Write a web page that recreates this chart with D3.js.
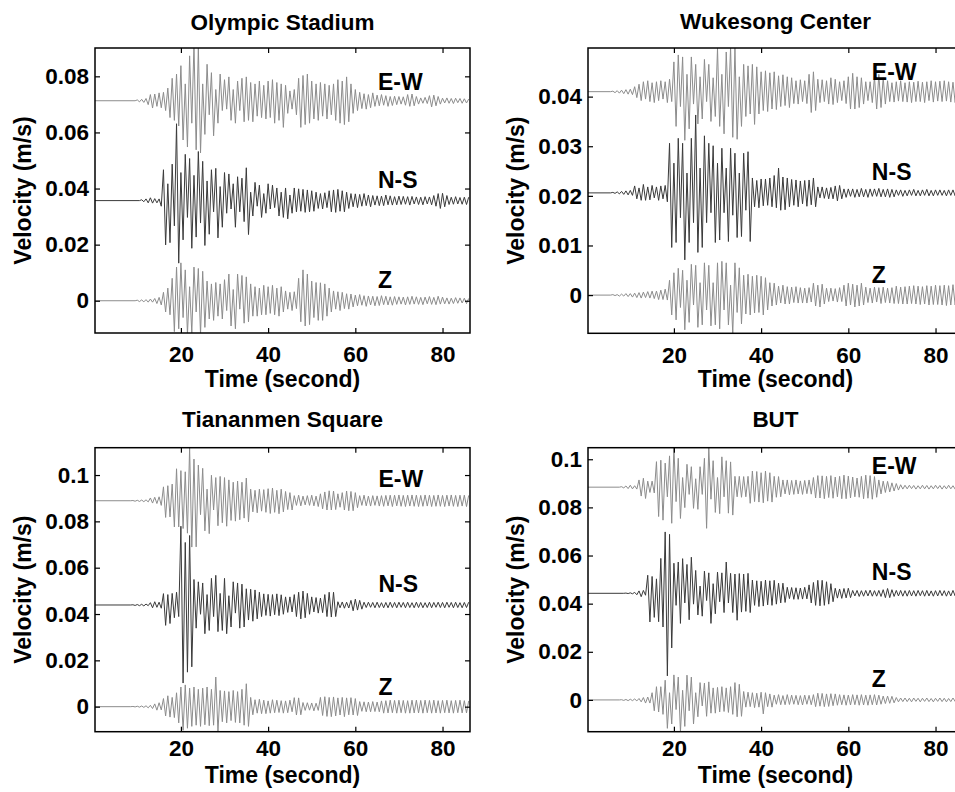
<!DOCTYPE html>
<html>
<head>
<meta charset="utf-8">
<script src="https://cdn.jsdelivr.net/npm/d3@7"></script>
<style>
  body { margin: 0; background: #fff; }
  svg { display: block; }
  text { font-family: "Liberation Sans", Arial, Helvetica, sans-serif; font-weight: bold; fill: #000; }
</style>
</head>
<body>
<svg id="chart" width="955" height="792"></svg>
<script>
// ---- Stations, components and axis settings ----
const stationNames = ["Olympic Stadium", "Wukesong Center", "Tiananmen Square", "BUT"];
const componentNames = ["E-W", "N-S", "Z"];
const timeLimits = [0.3, 86.3];
const timeTicks = [20, 40, 60, 80];
const velocityLimits = [[-0.0115, 0.0901], [-0.0077, 0.0498], [-0.0108, 0.1118], [-0.0132, 0.1048]];
const velocityTicks = [
  [0, 0.02, 0.04, 0.06, 0.08],
  [0, 0.01, 0.02, 0.03, 0.04],
  [0, 0.02, 0.04, 0.06, 0.08, 0.1],
  [0, 0.02, 0.04, 0.06, 0.08, 0.1]
];
// vertical offset of each trace (m/s), order E-W, N-S, Z
const traceOffsets = [[0.0713, 0.0357, 0], [0.0410, 0.0206, 0], [0.0889, 0.0439, 0], [0.0884, 0.0443, 0]];
// time of the first sample of each trace (s); samples every 0.5 s
const traceOnsets = [[10, 11, 10], [6, 6, 6], [9, 9, 9], [8, 9, 8]];
const sampleStep = 0.5;
// component label anchor: time (s) and level (m/s)
const labelTimes = [65.2, 65.4, 65.3, 65.4];
const labelLevels = [[0.0751, 0.0401, 0.0044], [0.0434, 0.0232, 0.0024], [0.0947, 0.0494, 0.0050], [0.0939, 0.0498, 0.0055]];

// ---- Velocity samples, units of 0.1 mm/s (1e-4 m/s) ----
const olympicEW = [
  3,-4,5,-6,8,-14,22,-26,24,-20,
  28,-25,30,-35,45,-60,80,-70,95,-90,
  125,-140,60,-165,160,-80,200,-175,195,-186,
  60,-120,130,-50,100,-125,40,-80,95,-35,
  75,-30,85,-70,40,-80,70,-35,80,-75,
  85,-70,65,-75,60,-55,70,-60,55,-65,
  70,-60,75,-80,65,-70,60,-95,55,-45,
  35,-30,40,-50,80,-95,90,-85,95,-80,
  70,-65,60,-70,65,-55,60,-65,55,-50,
  60,-70,75,-80,70,-85,85,-75,60,-45,
  40,-35,30,-28,25,-30,22,-25,28,-20,
  20,-18,22,-16,18,-20,15,-17,16,-14,
  15,-12,14,-16,22,-20,24,-18,15,-12,
  10,-9,12,-10,18,-22,20,-18,15,-12,
  9,-8,10,-9,8,-10,9,-7,8,-9,
  7,-8,6
];
const olympicNS = [
  3,-4,6,-8,10,-9,7,-8,6,-20,
  110,-158,60,-150,130,-90,274,-223,100,-140,
  165,-60,150,-170,90,-130,175,-80,140,-160,
  70,-120,110,-40,115,-133,50,-95,100,-45,
  95,-30,60,-95,85,-40,80,-75,117,-121,
  30,-55,65,-20,55,-60,25,-45,60,-30,
  55,-25,45,-55,30,-60,45,-65,20,-45,
  45,-40,42,-38,40,-42,38,-40,35,-38,
  30,-28,25,-30,28,-25,35,-40,38,-42,
  40,-38,35,-40,30,-28,25,-22,24,-25,
  22,-20,25,-18,20,-22,18,-16,17,-18,
  16,-18,20,-15,17,-16,14,-15,16,-14,
  15,-13,14,-16,15,-12,13,-14,12,-15,
  14,-12,13,-15,18,-20,25,-28,26,-22,
  18,-14,12,-13,14,-12,11,-13,12,-14,
  12
];
const olympicZ = [
  2,-3,3,-4,4,-5,6,-5,8,-10,
  12,-15,30,-40,45,-50,80,-110,120,-100,
  135,-60,110,-120,50,-115,120,-40,115,-120,
  105,-95,70,-65,60,-70,65,-55,60,-65,
  75,-35,95,-90,40,-100,95,-30,90,-80,
  85,-75,60,-55,50,-55,45,-50,55,-50,
  50,-45,55,-50,45,-55,50,-40,35,-30,
  30,-35,32,-28,80,-75,110,-90,95,-85,
  70,-60,65,-70,64,-70,60,-55,45,-40,
  35,-30,32,-35,30,-28,25,-30,24,-22,
  20,-18,22,-16,18,-20,17,-15,16,-18,
  15,-17,18,-14,16,-15,14,-16,15,-13,
  14,-12,13,-15,14,-13,16,-12,14,-13,
  12,-14,13,-11,15,-13,12,-14,16,-12,
  13,-11,10,-12,9,-10,11,-9,10,-8,
  9,-10,8
];
const wukesongEW = [
  1,-2,2,-3,3,-4,4,-5,5,-6,
  10,-12,15,-18,20,-15,22,-20,18,-22,
  20,-18,22,-15,20,-22,25,-20,60,-70,
  74,-30,70,-98,35,-75,70,-25,55,-65,
  30,-55,65,-20,55,-60,28,-50,88,-70,
  35,-85,80,-30,90,-92,88,-96,30,-70,
  55,-50,52,-45,55,-66,50,-45,40,-38,
  42,-40,38,-35,40,-36,32,-30,34,-28,
  30,-32,28,-24,22,-25,24,-20,22,-24,
  35,-42,40,-38,25,-22,24,-20,22,-25,
  28,-26,25,-22,20,-18,22,-24,30,-35,
  37,-35,30,-32,28,-25,20,-18,20,-22,
  30,-35,35,-32,28,-25,22,-20,18,-21,
  20,-19,22,-20,18,-21,20,-22,19,-20,
  21,-20,19,-22,20,-18,22,-21,20,-19,
  21,-20,22,-19,20,-21,19,-22,20,-21,
  20
];
const wukesongNS = [
  1,-1,2,-2,3,-3,4,-4,5,-5,
  14,-12,10,-15,17,-15,12,-14,15,-10,
  12,-15,14,-12,15,-18,100,-110,60,-100,
  110,-50,100,-135,40,-100,110,-60,157,-120,
  50,-110,115,-60,100,-40,95,-100,60,-95,
  90,-40,50,-98,90,-45,80,-90,40,-88,
  80,-35,83,-98,30,-28,25,-30,28,-26,
  28,-25,30,-28,35,-30,50,-35,32,-34,
  30,-28,27,-25,26,-28,24,-22,25,-27,
  26,-24,30,-28,12,-10,12,-11,10,-12,
  11,-12,14,-16,15,-12,8,-9,8,-7,
  8,-9,7,-8,9,-8,7,-9,8,-7,
  8,-7,9,-8,7,-8,8,-9,7,-8,
  6,-5,6,-7,5,-6,6,-5,7,-6,
  5,-6,6,-5,7,-6,5,-6,6,-5,
  6,-5,5,-6,6,-5,6,-6,5,-6,
  5
];
const wukesongZ = [
  1,-1,1,-2,2,-2,3,-3,3,-4,
  4,-5,5,-6,6,-5,7,-6,8,-7,
  8,-9,10,-9,12,-10,30,-40,45,-50,
  54,-25,50,-70,30,-55,62,-20,60,-65,
  25,-60,65,-30,60,-62,25,-60,65,-68,
  68,-30,65,-60,20,-78,65,-35,55,-58,
  40,-38,42,-40,38,-36,40,-35,38,-40,
  35,-30,25,-22,24,-20,18,-16,20,-18,
  17,-18,16,-15,17,-16,15,-16,14,-16,
  15,-14,24,-22,20,-24,22,-18,14,-13,
  14,-12,13,-14,15,-13,20,-22,24,-20,
  22,-24,20,-22,24,-20,16,-15,14,-16,
  16,-14,15,-17,16,-15,14,-16,15,-17,
  18,-17,16,-18,17,-18,18,-17,19,-18,
  18,-19,17,-18,19,-20,18,-19,20,-19,
  19,-20,20,-21,19,-20,21,-20,20,-21,
  20
];
const tiananmenEW = [
  1,-2,2,-3,3,-4,4,-5,12,-10,
  15,-12,17,-20,60,-72,65,-70,72,-113,
  138,-113,130,-120,125,-140,229,-200,180,-199,
  154,-60,140,-130,50,-142,110,-40,100,-108,
  105,-95,100,-110,90,-85,80,-88,85,-82,
  80,-75,98,-91,50,-48,45,-52,50,-45,
  48,-50,52,-55,55,-50,45,-56,50,-48,
  40,-38,35,-40,22,-20,24,-22,20,-18,
  22,-20,24,-22,20,-25,30,-35,38,-40,
  43,-40,42,-38,30,-28,35,-40,42,-43,
  40,-43,35,-30,22,-20,24,-22,20,-23,
  22,-20,21,-23,22,-24,23,-22,24,-25,
  24,-22,25,-24,23,-25,24,-23,25,-24,
  24,-25,23,-24,25,-23,24,-25,23,-24,
  25,-24,23,-25,24,-23,25,-24,23,-25,
  24,-23,24,-25,23
];
const tiananmenNS = [
  1,-2,2,-3,3,-4,4,-3,10,-12,
  14,-10,12,-14,49,-88,45,-80,50,-55,
  55,-50,340,-337,270,-290,300,-267,110,-100,
  100,-40,95,-124,45,-110,115,-50,128,-115,
  50,-110,115,-124,40,-95,100,-35,95,-100,
  90,-95,70,-65,68,-70,65,-60,55,-50,
  48,-45,46,-48,45,-42,48,-46,44,-40,
  35,-32,35,-30,45,-50,55,-60,60,-55,
  50,-40,35,-30,32,-35,30,-33,45,-50,
  55,-52,55,-50,14,-12,13,-14,12,-13,
  20,-25,25,-22,20,-18,12,-11,12,-10,
  11,-12,12,-11,10,-12,11,-12,12,-11,
  11,-12,12,-10,11,-12,12,-11,10,-12,
  12,-11,11,-12,10,-11,12,-12,11,-10,
  12,-11,11,-12,12,-10,11,-12,12,-11,
  10,-12,11,-11,12
];
const tiananmenZ = [
  1,-1,2,-2,3,-3,4,-5,6,-8,
  12,-15,17,-14,35,-40,47,-45,40,-47,
  60,-70,85,-102,94,-93,80,-85,85,-80,
  75,-85,80,-78,85,-82,75,-80,128,-108,
  70,-65,68,-70,65,-60,70,-68,65,-70,
  75,-80,99,-85,40,-35,30,-28,32,-30,
  28,-30,25,-28,30,-26,28,-25,26,-28,
  25,-26,28,-22,39,-36,38,-35,18,-16,
  17,-15,16,-18,15,-16,40,-38,43,-42,
  40,-43,42,-40,38,-36,40,-43,38,-35,
  39,-36,35,-38,22,-20,21,-22,20,-22,
  22,-21,20,-22,25,-28,26,-27,28,-26,
  27,-28,28,-26,27,-28,26,-28,28,-27,
  28,-27,27,-28,28,-26,27,-28,28,-27,
  26,-28,27,-26,28,-27,26,-28,27,-26,
  28,-27,26,-27,25
];
const butEW = [
  2,-3,5,-6,8,-7,6,-8,30,-37,
  37,-47,25,-22,25,-24,106,-122,112,-137,
  100,-40,130,-150,164,-60,120,-130,40,-85,
  95,-30,85,-88,35,-92,85,-30,120,-171,
  164,-50,110,-105,40,-110,126,-40,110,-108,
  105,-116,45,-40,45,-42,44,-40,45,-67,
  67,-60,65,-62,60,-65,67,-58,60,-62,
  45,-42,44,-40,30,-28,30,-32,28,-30,
  30,-28,26,-30,28,-27,30,-29,40,-45,
  48,-45,47,-48,45,-43,48,-46,42,-40,
  45,-48,50,-48,46,-45,42,-40,38,-42,
  45,-48,50,-46,48,-50,44,-42,30,-28,
  25,-22,24,-20,18,-16,15,-12,10,-8,
  8,-7,8,-6,7,-8,6,-7,8,-7,
  7,-8,6,-7,8,-6,7,-8,6,-7,
  8,-7,6,-8,7,-6,7
];
const butNS = [
  1,-1,2,-2,4,-6,10,-14,12,-8,
  75,-119,70,-100,60,-118,145,-140,255,-343,
  245,-227,125,-50,130,-125,144,-40,120,-110,
  150,-45,95,-90,30,-95,92,-30,85,-125,
  40,-85,88,-35,85,-80,130,-40,83,-80,
  80,-112,82,-78,80,-75,83,-80,55,-50,
  52,-55,50,-53,55,-48,52,-50,54,-45,
  42,-40,42,-38,25,-22,24,-25,23,-25,
  22,-24,25,-23,35,-40,45,-50,54,-52,
  54,-50,48,-45,40,-35,21,-20,18,-21,
  20,-19,21,-18,12,-11,12,-13,11,-12,
  12,-11,13,-12,11,-12,12,-13,15,-18,
  20,-18,15,-13,12,-11,12,-12,11,-12,
  12,-11,11,-12,12,-10,11,-12,12,-11,
  10,-12,11,-11,12,-10,11,-12,10,-11,
  12,-11,10,-12,11
];
const butZ = [
  1,-2,2,-3,3,-3,4,-4,6,-8,
  10,-13,12,-13,30,-45,55,-50,55,-60,
  82,-118,30,-100,104,-40,95,-132,40,-110,
  103,-45,95,-100,30,-70,72,-25,70,-68,
  75,-55,50,-55,52,-50,55,-48,50,-52,
  55,-60,72,-70,65,-68,35,-30,32,-28,
  30,-32,28,-30,32,-58,30,-28,25,-30,
  20,-18,22,-20,18,-20,22,-19,20,-18,
  19,-20,18,-21,20,-18,19,-20,22,-28,
  28,-26,27,-28,25,-27,26,-24,25,-22,
  22,-20,21,-22,20,-21,22,-20,21,-22,
  22,-21,20,-22,21,-20,22,-21,20,-18,
  16,-15,16,-14,15,-12,10,-8,8,-7,
  8,-7,7,-8,8,-6,7,-8,7,-6,
  8,-7,6,-8,7,-6,8,-7,7,-8,
  6,-7,8,-6,7,-8,7
];
const stationTraces = [
  [olympicEW, olympicNS, olympicZ],
  [wukesongEW, wukesongNS, wukesongZ],
  [tiananmenEW, tiananmenNS, tiananmenZ],
  [butEW, butNS, butZ]
];

// ---- Layout ----
const traceColors = ["#8c8c8c", "#3a3a3a", "#8c8c8c"];
const panelBoxes = [
  { left: 95,  top: 48,    width: 375, height: 285,   titleY: 30,    tickPad: 13.5, xLabelY: 53.5 },
  { left: 588, top: 48,    width: 375, height: 285.3, titleY: 28.5,  tickPad: 13.5, xLabelY: 53.5 },
  { left: 95,  top: 447.7, width: 375, height: 284,   titleY: 426.7, tickPad: 8.5,  xLabelY: 51 },
  { left: 588, top: 447.7, width: 375, height: 284,   titleY: 427.3, tickPad: 8.5,  xLabelY: 51 }
];
const fontSize = 22.5;

const svg = d3.select("#chart");

stationNames.forEach((name, si) => {
  const box = panelBoxes[si];
  const x = d3.scaleLinear().domain(timeLimits).range([0, box.width]);
  const y = d3.scaleLinear().domain(velocityLimits[si]).range([box.height, 0]);

  // title
  svg.append("text")
    .attr("x", box.left + box.width / 2)
    .attr("y", box.titleY)
    .attr("text-anchor", "middle")
    .style("font-size", "22.5px")
    .text(name);

  const g = svg.append("g").attr("transform", `translate(${box.left},${box.top})`);

  const clipId = "clip" + si;
  g.append("clipPath").attr("id", clipId)
    .append("rect").attr("width", box.width).attr("height", box.height);

  const traces = g.append("g").attr("clip-path", `url(#${clipId})`);

  stationTraces[si].forEach((vals, ci) => {
    const offset = traceOffsets[si][ci];
    const onset = traceOnsets[si][ci];
    const pts = [{ t: timeLimits[0], v: 0 }, { t: onset - sampleStep, v: 0 }]
      .concat(vals.map((v, i) => ({ t: onset + i * sampleStep, v })));
    const line = d3.line()
      .x(d => x(d.t))
      .y(d => y(offset + d.v * 1e-4));
    traces.append("path")
      .datum(pts)
      .attr("d", line)
      .attr("fill", "none")
      .attr("stroke", traceColors[ci])
      .attr("stroke-width", 1)
      .attr("stroke-linejoin", "round");
  });

  // component labels
  componentNames.forEach((c, ci) => {
    g.append("text")
      .attr("x", x(labelTimes[si]))
      .attr("y", y(labelLevels[si][ci]))
      .style("font-size", "23px")
      .text(c);
  });

  // axes with inward ticks on all four sides
  const tickLen = 5;
  const xAxis = g.append("g").attr("transform", `translate(0,${box.height})`)
    .call(d3.axisBottom(x).tickValues(timeTicks).tickSizeInner(-tickLen).tickSizeOuter(0)
      .tickPadding(box.tickPad));
  const xTop = g.append("g")
    .call(d3.axisTop(x).tickValues(timeTicks).tickSizeInner(-tickLen).tickSizeOuter(0).tickFormat(""));
  const yAxis = g.append("g")
    .call(d3.axisLeft(y).tickValues(velocityTicks[si]).tickSizeInner(-tickLen).tickSizeOuter(0)
      .tickPadding(6).tickFormat(d => String(d)));
  const yRight = g.append("g").attr("transform", `translate(${box.width},0)`)
    .call(d3.axisRight(y).tickValues(velocityTicks[si]).tickSizeInner(-tickLen).tickSizeOuter(0).tickFormat(""));

  [xAxis, xTop, yAxis, yRight].forEach(a => {
    a.select(".domain").remove();
    a.selectAll(".tick line").attr("stroke", "#000").attr("stroke-width", 1.2);
    a.selectAll(".tick text")
      .attr("fill", "#000")
      .style("font-family", '"Liberation Sans", Arial, Helvetica, sans-serif')
      .style("font-weight", "bold")
      .style("font-size", fontSize + "px");
  });

  g.append("rect")
    .attr("width", box.width).attr("height", box.height)
    .attr("fill", "none").attr("stroke", "#000").attr("stroke-width", 1.5);

  // axis titles
  g.append("text")
    .attr("x", box.width / 2)
    .attr("y", box.height + box.xLabelY)
    .attr("text-anchor", "middle")
    .style("font-size", "23px")
    .text("Time (second)");
  g.append("text")
    .attr("transform", `translate(-64,${box.height / 2}) rotate(-90)`)
    .attr("text-anchor", "middle")
    .style("font-size", "23px")
    .text("Velocity (m/s)");
});
</script>
</body>
</html>
